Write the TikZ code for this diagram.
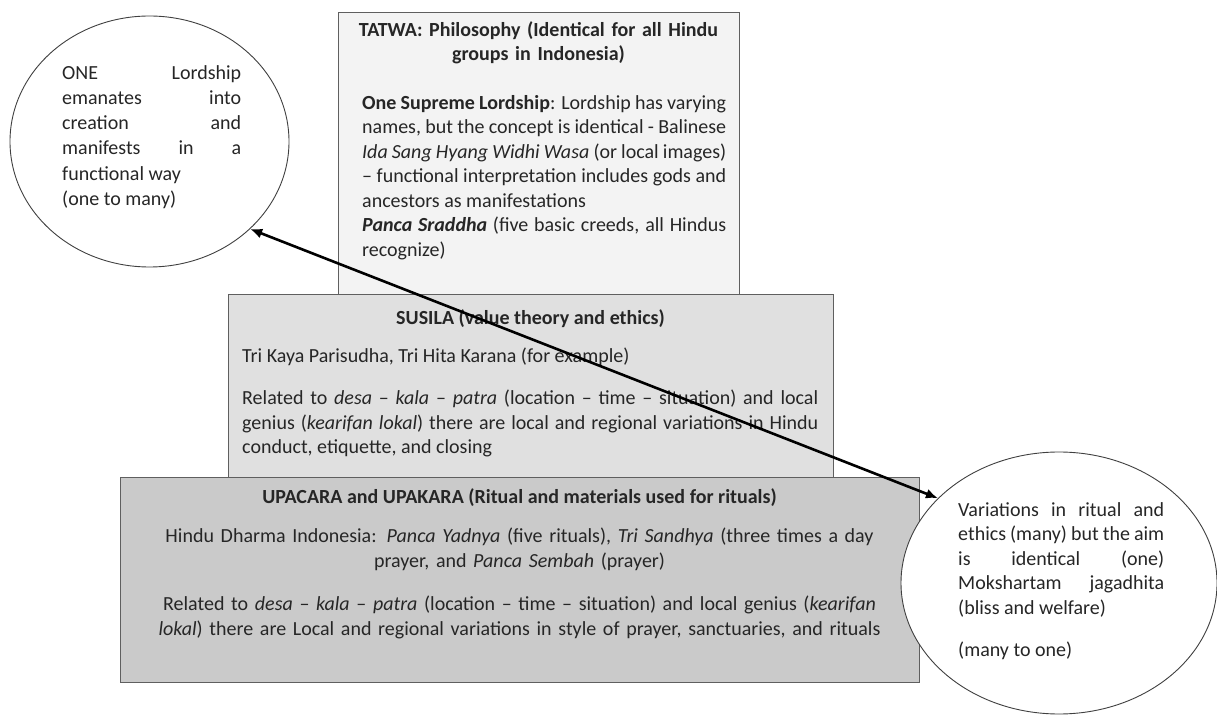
\documentclass[tikz,border=0pt]{standalone}
\usepackage{fontspec}
\setmainfont{Carlito}
\usepackage{tikz}
\usetikzlibrary{arrows.meta,positioning,shapes.geometric}
\setlength{\parindent}{0pt}
\hbadness=10000
\hfuzz=8pt

\definecolor{tatwafill}{HTML}{F3F3F3}
\definecolor{susilafill}{HTML}{E0E0E0}
\definecolor{upacarafill}{HTML}{CACACA}
\definecolor{boxline}{HTML}{5F5F5F}
\definecolor{inktext}{HTML}{262626}

\begin{document}
\begin{tikzpicture}[>=Latex,x=1pt,y=1pt,
  layer/.style={draw=boxline,line width=1.4pt,anchor=north west,inner sep=0pt},
  txt/.style={inner sep=0pt,text=inktext,font=\fontsize{20}{24.5}\selectfont},
  bubble/.style={ellipse,draw=black!75,line width=0.9pt,fill=white,inner sep=0pt}]
\useasboundingbox (0,0) rectangle (1217,715);

% the three layers, back to front
\node[layer,fill=tatwafill,minimum width=401pt,minimum height=290pt] (tatwa) at (338,703) {};
\node[layer,fill=susilafill,minimum width=605pt,minimum height=183pt] (susila) at (228,421) {};
\node[layer,fill=upacarafill,minimum width=799pt,minimum height=205pt] (upacara) at (120,238) {};

\node[txt,anchor=north,text width=390pt,align=center] (tatwatitle) at (538.5,694)
  {\bfseries TATWA: Philosophy (Identical for all Hindu\\groups in Indonesia)};
\node[txt,anchor=north west,text width=364pt,align=justify] (tatwabody) at (362,620)
  {\textbf{One Supreme Lordship}: Lordship has varying\linebreak
   names, but the concept is identical - Balinese\linebreak
   \textit{Ida Sang Hyang Widhi Wasa} (or local images)\linebreak
   -- functional interpretation includes gods and\linebreak
   ancestors as manifestations\par
   \textbf{\textit{Panca Sraddha}} (five basic creeds, all Hindus\linebreak
   recognize)};

\node[txt,anchor=north] (susilatitle) at (530.5,406)
  {\bfseries SUSILA (value theory and ethics)};
\node[txt,anchor=north west,text width=576pt,align=justify] (susilabody) at (242,367)
  {Tri Kaya Parisudha, Tri Hita Karana (for example)\par\vspace{17.5pt}
   Related to \textit{desa} -- \textit{kala} -- \textit{patra} (location -- time -- situation) and local\linebreak
   genius (\textit{kearifan lokal}) there are local and regional variations in Hindu\linebreak
   conduct, etiquette, and closing};

\node[txt,anchor=north] (upacaratitle) at (519.5,227)
  {\bfseries UPACARA and UPAKARA (Ritual and materials used for rituals)};
\node[txt,anchor=north,text width=790pt,align=center] (upacarabody) at (519.5,187)
  {Hindu Dharma Indonesia: \textit{Panca Yadnya} (five rituals), \textit{Tri Sandhya} (three times a day\\
   prayer, and \textit{Panca Sembah} (prayer)\\[19pt]
   Related to \textit{desa} -- \textit{kala} -- \textit{patra} (location -- time -- situation) and local genius (\textit{kearifan}\\
   \textit{lokal}) there are Local and regional variations in style of prayer, sanctuaries, and rituals};

% the two bubbles
\node[bubble,minimum width=279pt,minimum height=251pt] (oneell) at (149.5,573.5) {};
\node[txt,anchor=north west,text width=179pt,align=justify,font=\fontsize{20}{25.3}\selectfont] (onetext) at (62,650)
  {ONE Lordship\linebreak emanates into\linebreak creation and\linebreak manifests in a\linebreak
   functional way\par (one to many)};

\node[bubble,minimum width=316pt,minimum height=262pt] (manyell) at (1059,132) {};
\node[txt,anchor=north west,text width=206pt,align=justify] (manytext) at (958,213)
  {Variations in ritual and\linebreak ethics (many) but the aim\linebreak is identical (one)\linebreak
   Mokshartam jagadhita\linebreak (bliss and welfare)\par\vspace{17.5pt}
   (many to one)};

\draw[<->,line width=2.6pt,arrows={Latex[length=12pt,width=10pt]-Latex[length=12pt,width=10pt]}]
  (oneell.-41) -- (manyell.145);
\end{tikzpicture}
\end{document}
